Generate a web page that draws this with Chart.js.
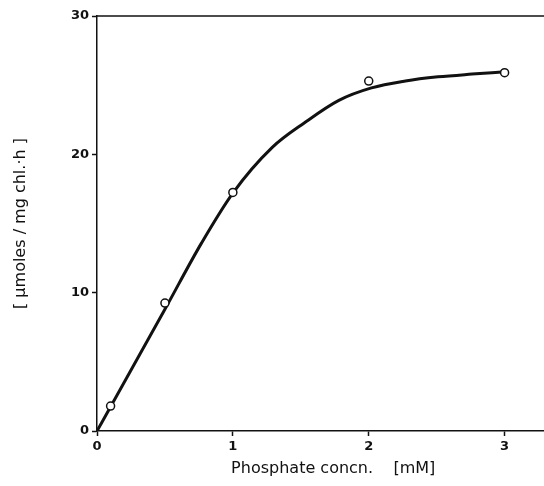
<!DOCTYPE html>
<html>
<head>
<meta charset="utf-8">
<script src="https://cdn.jsdelivr.net/npm/chart.js@4/dist/chart.umd.min.js"></script>
<style>
  html, body { margin: 0; padding: 0; background: #fff; }
  canvas { display: block; }
</style>
</head>
<body>
<canvas id="chart" width="544" height="486"></canvas>
<script>
// measured points (phosphate concn. mM / rate)
const concn = [0.1, 0.5, 1, 2, 3]
const rate = [1.8, 9.25, 17.25, 25.3, 25.9]

// hand-drawn fit curve
const curveX = [0, 0.1, 0.5, 0.77, 1, 1.29, 1.53, 1.78, 2.02, 2.27, 2.51, 2.76, 2.98]
const curveY = [0, 1.75, 8.8, 13.6, 17.2, 20.5, 22.3, 23.9, 24.8, 25.3, 25.6, 25.8, 25.95]

const xTicks = [0, 1, 2, 3]
const yTicks = [0, 10, 20, 30]

const xTitle = '     Phosphate concn.    [mM]'
const yTitle = '[ μmoles / mg chl.·h ]'

const ink = '#111'
const font = { family: 'DejaVu Sans', size: 13, weight: 'bold' }
const titleFont = { family: 'DejaVu Sans', size: 16 }

const topLine = {
  id: 'topLine',
  afterDraw(chart) {
    const { ctx, chartArea } = chart
    ctx.save()
    ctx.strokeStyle = ink
    ctx.lineWidth = 1.5
    ctx.beginPath()
    ctx.moveTo(chartArea.left, chartArea.top)
    ctx.lineTo(chartArea.right, chartArea.top)
    ctx.stroke()
    ctx.restore()
  }
}

const ctx = document.getElementById('chart')

const chart = new Chart(ctx, {
  type: 'scatter',
  data: {
    datasets: [{
      label: 'fit',
      data: curveX.map((x, i) => ({ x: x, y: curveY[i] })),
      showLine: true,
      borderColor: ink,
      borderWidth: 3,
      pointRadius: 0,
      cubicInterpolationMode: 'monotone',
      order: 2
    }, {
      label: 'measured',
      data: concn.map((x, i) => ({ x: x, y: rate[i] })),
      showLine: false,
      pointStyle: 'circle',
      pointRadius: 4,
      pointBorderWidth: 1.5,
      pointBackgroundColor: '#fff',
      pointBorderColor: ink,
      order: 1
    }]
  },
  options: {
    responsive: false,
    animation: false,
    layout: { autoPadding: false, padding: { top: 16, right: 0, left: 0, bottom: 0 } },
    plugins: {
      legend: { display: false },
      tooltip: { enabled: false }
    },
    scales: {
      x: {
        type: 'linear',
        min: 0,
        max: 3.29,
        afterBuildTicks: s => { s.ticks = xTicks.map(v => ({ value: v })) },
        afterFit: s => { s.height = 55; s.paddingRight = 0 },
        grid: { drawOnChartArea: false, tickLength: 5, color: ink, tickWidth: 1.5 },
        border: { color: ink, width: 1.5 },
        ticks: { color: ink, font: font, padding: 3, maxRotation: 0 },
        title: { display: true, text: xTitle, color: ink, font: titleFont, padding: { top: 0, bottom: 8 } }
      },
      y: {
        min: 0,
        max: 30,
        afterBuildTicks: s => { s.ticks = yTicks.map(v => ({ value: v })) },
        afterFit: s => { s.width = 97 },
        grid: { drawOnChartArea: false, tickLength: 5, color: ink, tickWidth: 1.5 },
        border: { color: ink, width: 1.5 },
        ticks: { color: ink, font: font, padding: 3 },
        title: { display: true, text: yTitle, color: ink, font: titleFont, padding: { top: 11, bottom: 0 } }
      }
    }
  },
  plugins: [topLine]
})
</script>
</body>
</html>
